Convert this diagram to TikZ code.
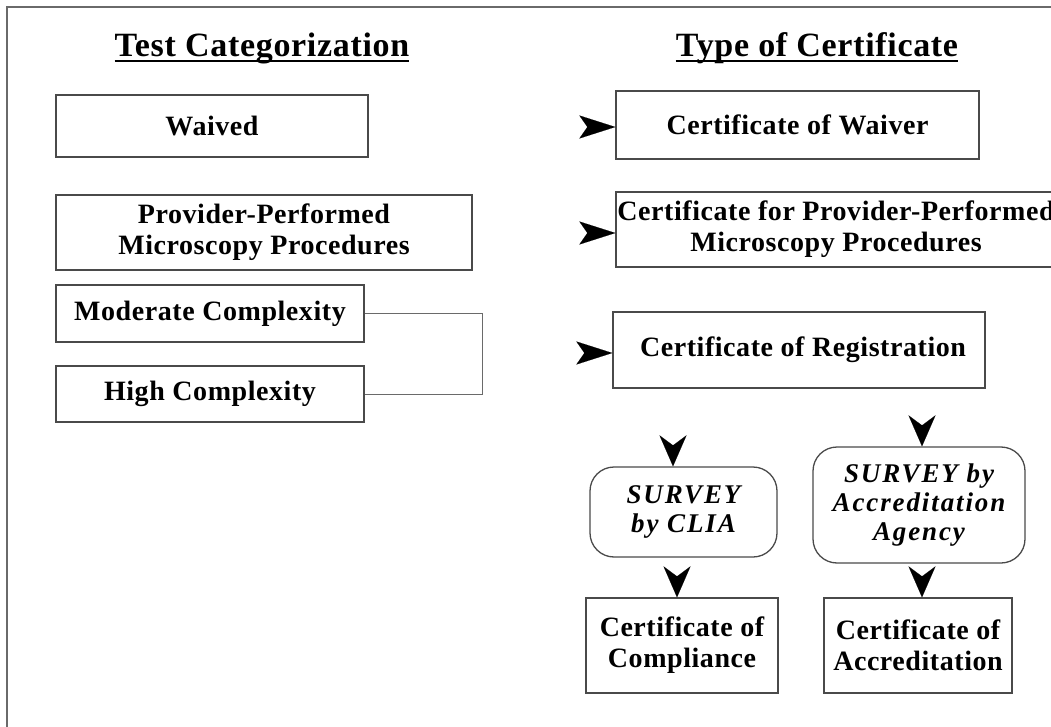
\documentclass[tikz,border=0pt]{standalone}
\usepackage{fontspec}
\setmainfont{Liberation Serif}
\newfontfamily\boxfont[LetterSpace=2]{Liberation Serif}
\newfontfamily\survfont[LetterSpace=7]{Liberation Serif}
\newfontfamily\ttlfont[LetterSpace=2]{Liberation Serif}
\usetikzlibrary{arrows.meta}
\definecolor{boxgray}{HTML}{4A4A4A}
\definecolor{framegray}{HTML}{6A6A6A}
\newcommand\boxtext{\boxfont\bfseries\fontsize{28}{31}\selectfont}
\newcommand\survtext{\survfont\bfseries\itshape\fontsize{27}{29}\selectfont}
\newcommand\titletext{\ttlfont\bfseries\fontsize{34}{38}\selectfont}
\begin{document}
\begin{tikzpicture}[x=1pt,y=-1pt,
  box/.style={draw=boxgray, line width=1.3pt, align=center, inner sep=0pt, font=\boxtext},
  rbox/.style={box, rounded corners=24pt, font=\survtext},
  ttl/.style={inner sep=0pt, anchor=base, font=\titletext},
  arr/.style={-{Stealth[length=36pt,width=23pt,inset=8pt]}, line width=0.1pt},
  darr/.style={-{Stealth[length=31pt,width=27pt,inset=10pt]}, line width=0.1pt},
  bracket/.style={draw=framegray, line width=1pt}]
\useasboundingbox (0,0) rectangle (1051,727);
% frame (top and left edges)
\draw[framegray, line width=2pt] (7,727) -- (7,7) -- (1051,7);
% titles
\node[ttl] (t1) at (262,57) {Test Categorization};
\node[ttl] (t2) at (817,57) {Type of Certificate};
\draw[line width=1.8pt] ([yshift=-4pt]t1.base west) -- ([yshift=-4pt]t1.base east);
\draw[line width=1.8pt] ([yshift=-4pt]t2.base west) -- ([yshift=-4pt]t2.base east);
% left column
\node[box, minimum width=312pt, minimum height=62pt] (waived) at (212,126) {Waived};
\node[box, minimum width=416pt, minimum height=75pt] (ppm) at (264,232.5) {Provider-Performed\\Microscopy Procedures};
\node[box, minimum width=308pt, minimum height=57pt] (mod) at (210,313.5) {Moderate Complexity};
\node[box, minimum width=308pt, minimum height=56pt] (high) at (210,394) {High Complexity};
\draw[bracket] (mod.east) -- ++(118,0) |- (high.east);
% right column
\node[box, minimum width=363pt, minimum height=68pt] (cwaiver) at (797.5,125) {Certificate of Waiver};
\node[box, minimum width=440pt, minimum height=75pt] (cppm) at (836,229.5) {Certificate for Provider-Performed\\Microscopy Procedures};
\node[box, minimum width=372pt, minimum height=76pt] (creg) at (799,350) {\hspace*{8pt}Certificate of Registration};
\node[rbox, minimum width=187pt, minimum height=90pt] (clia) at (683.5,512) {SURVEY\\by CLIA};
\node[rbox, minimum width=212pt, minimum height=116pt] (acc) at (919,505) {SURVEY by\\Accreditation\\Agency};
\node[box, minimum width=192pt, minimum height=95pt] (comp) at (682,645.5) {Certificate of\\Compliance};
\node[box, minimum width=188pt, minimum height=95pt] (accr) at (918,645.5) {Certificate of\\Accreditation};
% arrowheads (start points sit at the notch, so no shaft shows)
\coordinate (s1) at (588,127);
\coordinate (s2) at (588,233);
\coordinate (s3) at (585,353);
\coordinate (s4) at (673,445);
\coordinate (s5) at (677,576);
\coordinate (s6) at (922,426);
\coordinate (s7) at (922,576);
\draw[arr] (s1) -- (s1 -| cwaiver.west);
\draw[arr] (s2) -- (s2 -| cppm.west);
\draw[arr] (s3) -- (s3 -| creg.west);
\draw[darr] (s4) -- (s4 |- clia.north);
\draw[darr] (s5) -- (s5 |- comp.north);
\draw[darr] (s6) -- (s6 |- acc.north);
\draw[darr] (s7) -- (s7 |- accr.north);
\end{tikzpicture}
\end{document}
